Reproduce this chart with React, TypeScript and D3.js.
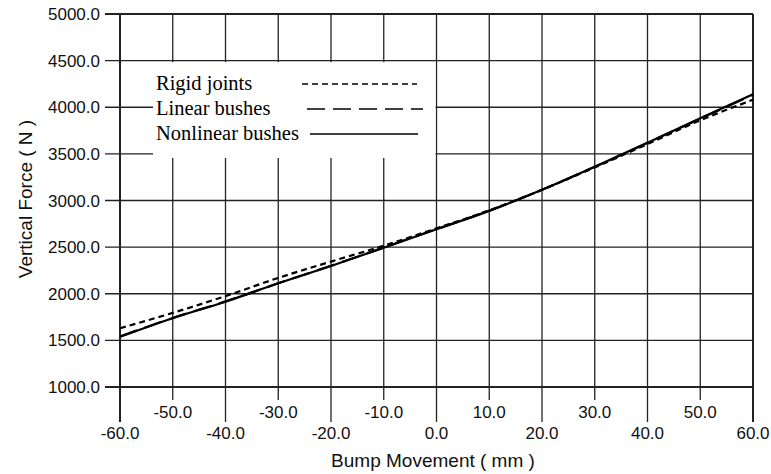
import { useEffect, useRef } from 'react';
import * as d3 from 'd3';

const bumpMm = [-60, -50, -40, -30, -20, -10, 0, 10, 20, 30, 40, 50, 60];
const rigidJoints = [1630, 1795, 1975, 2170, 2345, 2515, 2702, 2895, 3115, 3355, 3605, 3860, 4080];
const linearBushes = [1542, 1740, 1918, 2112, 2300, 2496, 2693, 2890, 3115, 3362, 3618, 3878, 4132];
const nonlinearBushes = [1539, 1738, 1915, 2112, 2298, 2494, 2691, 2889, 3115, 3362, 3620, 3881, 4139];
const yTicks = [1000, 1500, 2000, 2500, 3000, 3500, 4000, 4500, 5000];
const legendLabels = ['Rigid joints', 'Linear bushes', 'Nonlinear bushes'];

const App = () => {
  const svgRef = useRef<SVGSVGElement>(null);

  useEffect(() => {
    const svg = d3.select(svgRef.current);
    svg.selectAll('*').remove(); // clear previous

    const width = 771;
    const height = 474;
    const sans = '"Liberation Sans", Arial, sans-serif';
    const serif = '"Liberation Serif", "Times New Roman", serif';

    svg.attr('width', width).attr('height', height);

    const x = d3.scaleLinear().domain([-60, 60]).range([120, 753]);
    const y = d3.scaleLinear().domain([1000, 5000]).range([387, 14]);

    const g = svg.append('g');

    // horizontal grid + tick stubs on the left
    g.selectAll('.hgrid')
      .data(yTicks)
      .enter()
      .append('line')
      .attr('x1', 105)
      .attr('x2', x(60))
      .attr('y1', d => y(d))
      .attr('y2', d => y(d))
      .attr('stroke', '#222')
      .attr('stroke-width', d => (d === 1000 || d === 5000 ? 2 : 1.3));

    // vertical grid, alternate ones reach lower for the staggered labels
    g.selectAll('.vgrid')
      .data(bumpMm)
      .enter()
      .append('line')
      .attr('x1', d => x(d))
      .attr('x2', d => x(d))
      .attr('y1', y(5000))
      .attr('y2', (d, i) => (i % 2 === 0 ? 422 : 400))
      .attr('stroke', '#222')
      .attr('stroke-width', d => (d === -60 || d === 60 ? 2 : 1.3));

    // legend box hides the grid behind it
    g.append('rect')
      .attr('x', 153)
      .attr('y', y(4500) + 1.5)
      .attr('width', x(0) - 153 - 1)
      .attr('height', 158 - y(4500) - 1.5)
      .attr('fill', 'white');

    // y tick labels
    g.selectAll('.ylab')
      .data(yTicks)
      .enter()
      .append('text')
      .attr('x', 100)
      .attr('y', d => y(d))
      .attr('dy', '0.36em')
      .attr('text-anchor', 'end')
      .style('font-family', sans)
      .style('font-size', '17px')
      .attr('fill', '#111')
      .text(d => d.toFixed(1));

    // x tick labels, two rows
    g.selectAll('.xlab')
      .data(bumpMm)
      .enter()
      .append('text')
      .attr('x', d => x(d))
      .attr('y', (d, i) => (i % 2 === 0 ? 439 : 418))
      .attr('text-anchor', 'middle')
      .style('font-family', sans)
      .style('font-size', '17px')
      .attr('fill', '#111')
      .text(d => d.toFixed(1));

    // axis titles
    g.append('text')
      .attr('x', 433)
      .attr('y', 467)
      .attr('text-anchor', 'middle')
      .style('font-family', sans)
      .style('font-size', '19px')
      .attr('fill', '#111')
      .text('Bump Movement ( mm )');

    g.append('text')
      .attr('transform', 'translate(32,199) rotate(-90)')
      .attr('text-anchor', 'middle')
      .style('font-family', sans)
      .style('font-size', '19px')
      .attr('fill', '#111')
      .text('Vertical Force ( N )');

    // curves
    const series = [
      { values: rigidJoints, dash: '6,4' },
      { values: linearBushes, dash: '18,8' },
      { values: nonlinearBushes, dash: null },
    ];

    const line = d3
      .line<number>()
      .x((d, i) => x(bumpMm[i]))
      .y(d => y(d))
      .curve(d3.curveMonotoneX);

    series.forEach(s => {
      g.append('path')
        .attr('d', line(s.values))
        .attr('fill', 'none')
        .attr('stroke', '#000')
        .attr('stroke-width', 2.2)
        .attr('stroke-dasharray', s.dash);
    });

    // legend
    const legendY = [90, 115, 140];
    const sampleX = [[302, 417], [307, 423], [310, 418]];
    legendLabels.forEach((label, i) => {
      g.append('text')
        .attr('x', 156)
        .attr('y', legendY[i])
        .style('font-family', serif)
        .style('font-size', '20.5px')
        .attr('fill', '#000')
        .text(label);
      g.append('line')
        .attr('x1', sampleX[i][0])
        .attr('x2', sampleX[i][1])
        .attr('y1', legendY[i] - 6)
        .attr('y2', legendY[i] - 6)
        .attr('stroke', '#000')
        .attr('stroke-width', 1.6)
        .attr('stroke-dasharray', series[i].dash);
    });
  }, []);

  return (
    <div style={{ position: 'absolute', left: 0, top: 0 }}>
      <svg ref={svgRef} style={{ display: 'block', background: 'white' }}></svg>
    </div>
  );
};

export default App;
